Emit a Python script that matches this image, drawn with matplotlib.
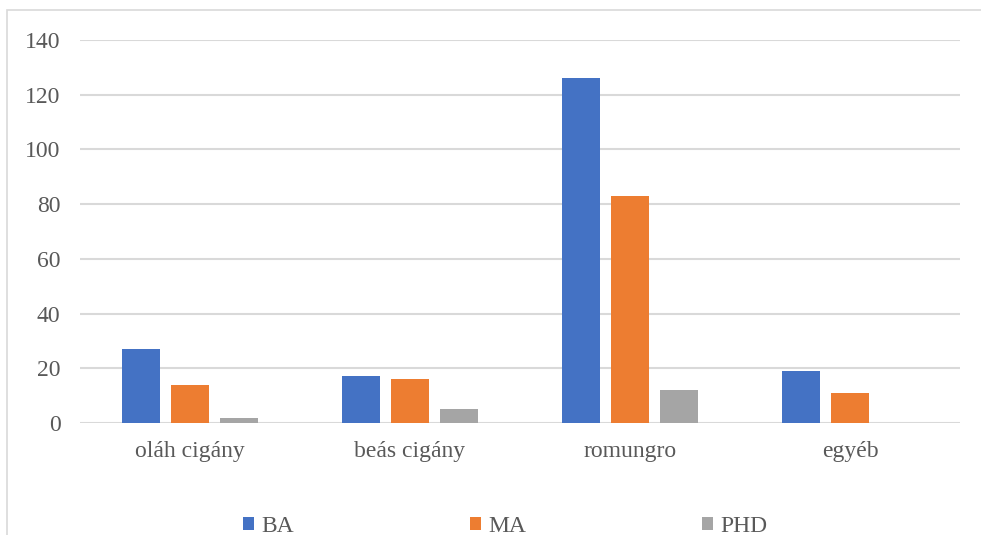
import matplotlib
matplotlib.use("Agg")
import matplotlib.pyplot as plt
import numpy as np
from matplotlib.patches import Rectangle

categories = ["oláh cigány", "beás cigány", "romungro", "egyéb"]
series_names = ["BA", "MA", "PHD"]
ba = [27, 17, 126, 19]
ma = [14, 16, 83, 11]
phd = [2, 5, 12, 0]
yticks = [0, 20, 40, 60, 80, 100, 120, 140]

colors = ["#4472C4", "#ED7D31", "#A5A5A5"]
txt = "#595959"
plt.rcParams['font.family'] = ['Liberation Serif', 'DejaVu Serif']

fig = plt.figure(figsize=(9.81, 5.35), dpi=100)
W, H = 981, 535
ax = fig.add_axes([80 / W, 1 - 423 / H, 880 / W, (423 - 40) / H])

x = np.arange(len(categories))
bw = 0.173
off = 0.223
for i, (vals, name) in enumerate(zip([ba, ma, phd], series_names)):
    ax.bar(x + (i - 1) * off, vals, width=bw, color=colors[i], label=name, zorder=3)

ax.set_xlim(-0.5, len(categories) - 0.5)
ax.set_ylim(0, 140)
ax.set_yticks(yticks)
ax.set_xticks(x)
ax.set_xticklabels(categories)
ax.tick_params(axis='both', length=0, colors=txt, labelsize=17)
ax.tick_params(axis='y', pad=14)
ax.tick_params(axis='x', pad=13)
ax.grid(axis='y', color='#D9D9D9', linewidth=1.5, zorder=0)
for s in ax.spines.values():
    s.set_visible(False)

fig.add_artist(Rectangle((7 / W, -0.1), 1.2, 1 - 10 / H + 0.1, transform=fig.transFigure,
                         fill=False, edgecolor='#D9D9D9', linewidth=1.2))

leg = fig.legend(loc='center', bbox_to_anchor=(505 / W, 1 - 526 / H), ncol=3, frameon=False,
                 fontsize=17, handlelength=0.47, handleheight=0.47, handletextpad=0.3,
                 columnspacing=7.45, labelcolor=txt, borderpad=0)

fig.savefig("out.png", dpi=100)
